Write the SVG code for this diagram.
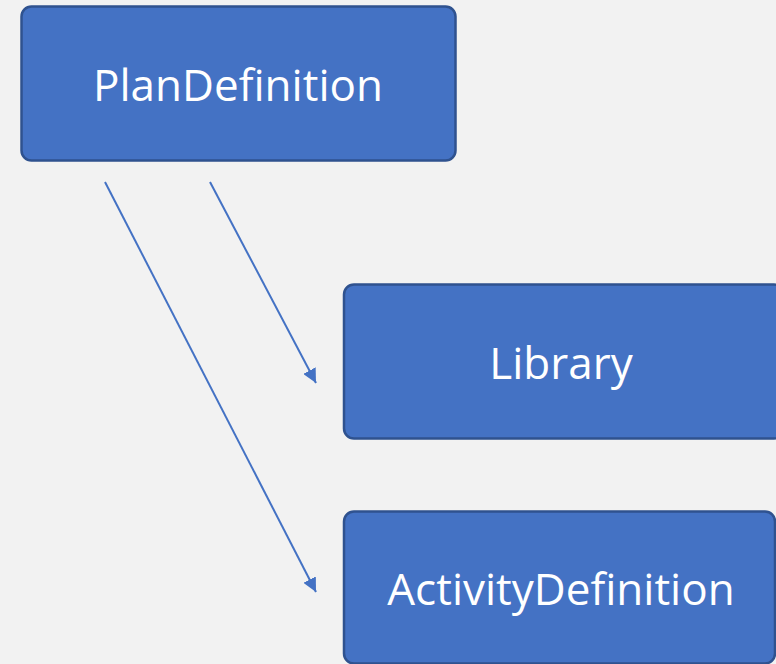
<svg xmlns="http://www.w3.org/2000/svg" width="776" height="664" viewBox="0 0 776 664">
<style>
.box{fill:#4472C4;stroke:#2F528F;stroke-width:2.5}
.lbl{fill:#FFFFFF;font-family:"Open Sans","Noto Sans",sans-serif;font-size:44px;text-anchor:middle}
.conn{stroke:#4472C4;stroke-width:2;fill:none}
</style>
<defs>
<marker id="ah" viewBox="0 0 10 10" refX="10" refY="5" markerWidth="7" markerHeight="7" markerUnits="strokeWidth" orient="auto">
<path d="M0,0 L10,5 L0,10 z" fill="#4472C4"/>
</marker>
</defs>
<rect width="776" height="664" fill="#F2F2F2"/>
<g id="connectors">
<line class="conn" x1="210" y1="182" x2="316" y2="383" marker-end="url(#ah)"/>
<line class="conn" x1="105" y1="182" x2="316" y2="592" marker-end="url(#ah)"/>
</g>
<g id="PlanDefinition">
<rect class="box" x="21.5" y="6.5" width="434" height="154" rx="10"/>
<text class="lbl" x="238" y="101">PlanDefinition</text>
</g>
<g id="Library">
<rect class="box" x="344" y="284.5" width="440" height="154" rx="10"/>
<text class="lbl" x="561" y="379">Library</text>
</g>
<g id="ActivityDefinition">
<rect class="box" x="344" y="511.5" width="431" height="152" rx="10"/>
<text class="lbl" x="561" y="605">ActivityDefinition</text>
</g>
</svg>
